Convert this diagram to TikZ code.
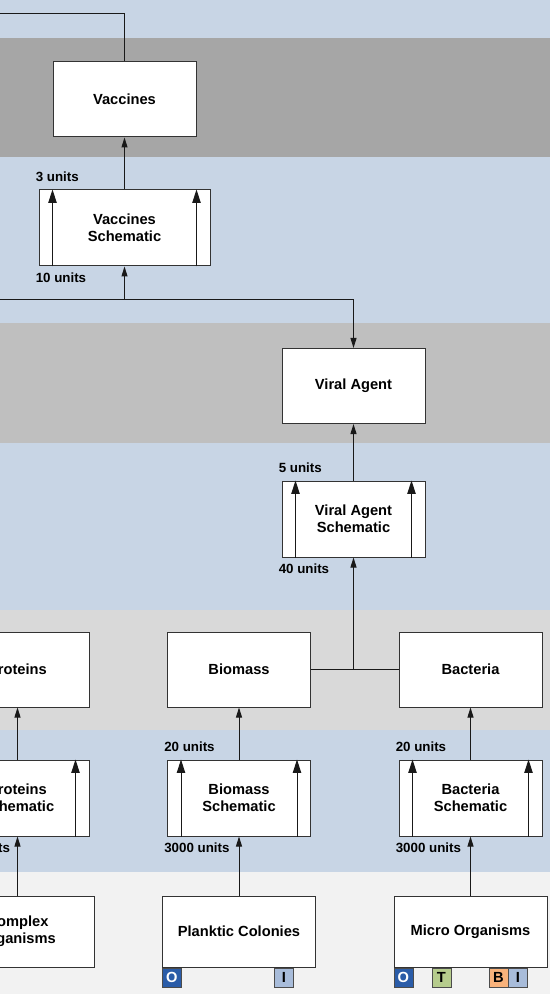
\documentclass[tikz,border=0pt]{standalone}
\usepackage{fontspec}
\setmainfont{Liberation Sans}
\usetikzlibrary{arrows.meta}

\definecolor{bandblue}{HTML}{C8D5E5}
\definecolor{banddark}{HTML}{A6A6A6}
\definecolor{bandmid}{HTML}{BFBFBF}
\definecolor{bandlight}{HTML}{D9D9D9}
\definecolor{bandpale}{HTML}{F2F2F2}
\definecolor{tagO}{HTML}{2A5CA8}
\definecolor{tagI}{HTML}{A8BCDA}
\definecolor{tagT}{HTML}{B6CC8D}
\definecolor{tagB}{HTML}{F8B27B}

\begin{document}
\begin{tikzpicture}[x=0.75pt, y=-0.75pt,
  box/.style={rectangle, draw=black!80, fill=white, line width=0.75pt, minimum width=107.25pt, minimum height=56.25pt, align=center, inner sep=0pt, font=\fontsize{11}{13}\selectfont\bfseries},
  schem/.style={box, minimum height=57pt},
  src/.style={box, minimum width=114.75pt, minimum height=53.25pt},
  qty/.style={inner sep=0pt, anchor=west, font=\fontsize{10}{12}\selectfont\bfseries},
  wire/.style={draw=black!90, line width=0.75pt},
  conn/.style={wire, -{Triangle[length=7.5pt,width=4.5pt]}},
  flow/.style={wire, -{Triangle[length=10pt,width=6.25pt]}},
  tag/.style={rectangle, draw=black!70, line width=0.5pt, minimum size=14.25pt, inner sep=0pt, anchor=north west, font=\fontsize{11}{13}\selectfont\bfseries}]

\useasboundingbox (0,0) rectangle (550,994);
\clip (0,0) rectangle (550,994);

\fill[bandblue] (0,0) rectangle (550,38);
\fill[banddark] (0,38) rectangle (550,157);
\fill[bandblue] (0,157) rectangle (550,323);
\fill[bandmid] (0,323) rectangle (550,443);
\fill[bandblue] (0,443) rectangle (550,610);
\fill[bandlight] (0,610) rectangle (550,730);
\fill[bandblue] (0,730) rectangle (550,872);
\fill[bandpale] (0,872) rectangle (550,994);

\node (vac) at (124.5,99.5) [box] {Vaccines};
	\node (vacs) at (124.5,228) [schem, minimum width=128.25pt] {Vaccines\\Schematic};

\node (vir) at (353.5,386) [box] {Viral Agent};
	\node (virs) at (353.5,519) [schem] {Viral Agent\\Schematic};

\node (prot) at (17.5,669.5) [box] {Proteins};
	\node (prots) at (17.5,798) [schem] {Proteins\\Schematic};
	\node (cplx) at (17.5,931.5) [src] {Complex\\Organisms};

\node (bio) at (239,669.5) [box] {Biomass};
	\node (bios) at (239,798) [schem] {Biomass\\Schematic};
	\node (plank) at (239,931.5) [src] {Planktic Colonies};

\node (bac) at (470.5,669.5) [box] {Bacteria};
	\node (bacs) at (470.5,798) [schem] {Bacteria\\Schematic};
	\node (micro) at (470.5,931.5) [src] {Micro Organisms};

\foreach \s in {vacs,virs,prots,bios,bacs} {
	\draw[flow] ([xshift=10.5pt]\s.south west) -- ([xshift=10.5pt]\s.north west);
	\draw[flow] ([xshift=-10.5pt]\s.south east) -- ([xshift=-10.5pt]\s.north east);
}

\node[qty] at ([xshift=-2.25pt,yshift=9.75pt]vacs.north west) {3 units};
\node[qty] at ([xshift=-2.25pt,yshift=-8.5pt]vacs.south west) {10 units};
\node[qty] at ([xshift=-2.25pt,yshift=9.75pt]virs.north west) {5 units};
\node[qty] at ([xshift=-2.25pt,yshift=-8.5pt]virs.south west) {40 units};
\node[qty] at ([xshift=-0.75pt,yshift=-8.5pt]prots.south west) {3000 units};
\node[qty] at ([xshift=-2.25pt,yshift=9.75pt]bios.north west) {20 units};
\node[qty] at ([xshift=-2.25pt,yshift=-8.5pt]bios.south west) {3000 units};
\node[qty] at ([xshift=-2.25pt,yshift=9.75pt]bacs.north west) {20 units};
\node[qty] at ([xshift=-2.25pt,yshift=-8.5pt]bacs.south west) {3000 units};

\coordinate (topin) at (-5,14);
\coordinate (midin) at (-5,300);
\coordinate (j1) at (124.5,300);
\coordinate (j2) at (353.5,669.5);

\draw[wire] (topin) -| (vac);
\draw[conn] (vacs) -- (vac);
\draw[conn] (midin) -| (vir);
\draw[conn] (j1) -- (vacs);
\draw[conn] (virs) -- (vir);
\draw[wire] (bio) -- (bac);
\draw[conn] (j2) -- (virs);
\draw[conn] (prots) -- (prot);
\draw[conn] (bios) -- (bio);
\draw[conn] (bacs) -- (bac);
\draw[conn] (cplx) -- (prots);
\draw[conn] (plank) -- (bios);
\draw[conn] (micro) -- (bacs);

\node[tag, fill=tagO, text=white] (plO) at (plank.south west) {O};
\node[tag, fill=tagI] (plI) at ([xshift=84pt]plank.south west) {I};
\node[tag, fill=tagO, text=white] (miO) at (micro.south west) {O};
\node[tag, fill=tagT] (miT) at ([xshift=28.5pt]micro.south west) {T};
\node[tag, fill=tagB] (miB) at ([xshift=71.25pt]micro.south west) {B};
\node[tag, fill=tagI] (miI) at (miB.north east) {I};

\end{tikzpicture}
\end{document}
